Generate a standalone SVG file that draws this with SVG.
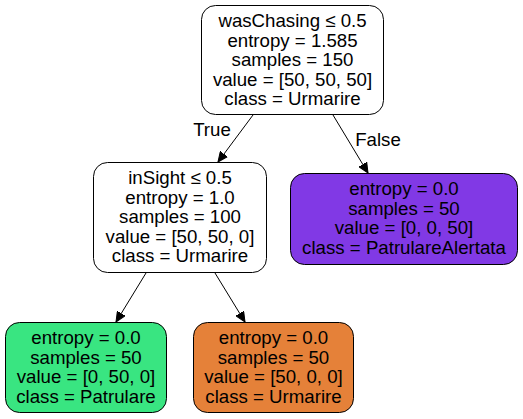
<svg xmlns="http://www.w3.org/2000/svg" width="523" height="419" viewBox="0 0 523 419">
<defs>
<marker id="arr" viewBox="0 0 10 10" refX="10" refY="5" markerWidth="10" markerHeight="10" markerUnits="userSpaceOnUse" orient="auto">
<path d="M0,0.5 L10,5 L0,9.5 Z" fill="#000" stroke="#000"/>
</marker>
</defs>
<style>
.n{stroke:#000;stroke-width:1}
text{font-family:"Liberation Sans",Arial,sans-serif;font-size:18.67px;fill:#000;text-anchor:middle}
.e{stroke:#000;stroke-width:1;fill:none;marker-end:url(#arr)}
</style>
<rect width="523" height="419" fill="#fff"/>
<g id="edges">
<line class="e" x1="253" y1="115" x2="218" y2="162"/>
<line class="e" x1="333" y1="115" x2="368" y2="173"/>
<line class="e" x1="146" y1="273" x2="116" y2="322"/>
<line class="e" x1="215" y1="273" x2="245" y2="322"/>
<text x="212" y="136">True</text>
<text x="378" y="146">False</text>
</g>
<g id="node0">
<rect class="n" x="201.5" y="5.5" width="182" height="109" rx="14" fill="#fff"/>
<text x="292.5" y="27">wasChasing ≤ 0.5</text>
<text x="292.5" y="46.5">entropy = 1.585</text>
<text x="292.5" y="66">samples = 150</text>
<text x="292.5" y="85.5">value = [50, 50, 50]</text>
<text x="292.5" y="105">class = Urmarire</text>
</g>
<g id="node1">
<rect class="n" x="93.5" y="162.5" width="173" height="110" rx="14" fill="#fff"/>
<text x="180" y="184">inSight ≤ 0.5</text>
<text x="180" y="203.5">entropy = 1.0</text>
<text x="180" y="223">samples = 100</text>
<text x="180" y="242.5">value = [50, 50, 0]</text>
<text x="180" y="262">class = Urmarire</text>
</g>
<g id="node2">
<rect class="n" x="5.5" y="322.5" width="161" height="90" rx="14" fill="#39e581"/>
<text x="86" y="344">entropy = 0.0</text>
<text x="86" y="363.5">samples = 50</text>
<text x="86" y="383">value = [0, 50, 0]</text>
<text x="86" y="402.5">class = Patrulare</text>
</g>
<g id="node3">
<rect class="n" x="193.5" y="322.5" width="160" height="90" rx="14" fill="#e58139"/>
<text x="273.5" y="344">entropy = 0.0</text>
<text x="273.5" y="363.5">samples = 50</text>
<text x="273.5" y="383">value = [50, 0, 0]</text>
<text x="273.5" y="402.5">class = Urmarire</text>
</g>
<g id="node4">
<rect class="n" x="290.5" y="173.5" width="227" height="91" rx="14" fill="#8139e5"/>
<text x="404" y="195">entropy = 0.0</text>
<text x="404" y="214.5">samples = 50</text>
<text x="404" y="234">value = [0, 0, 50]</text>
<text x="404" y="253.5">class = PatrulareAlertata</text>
</g>
</svg>
